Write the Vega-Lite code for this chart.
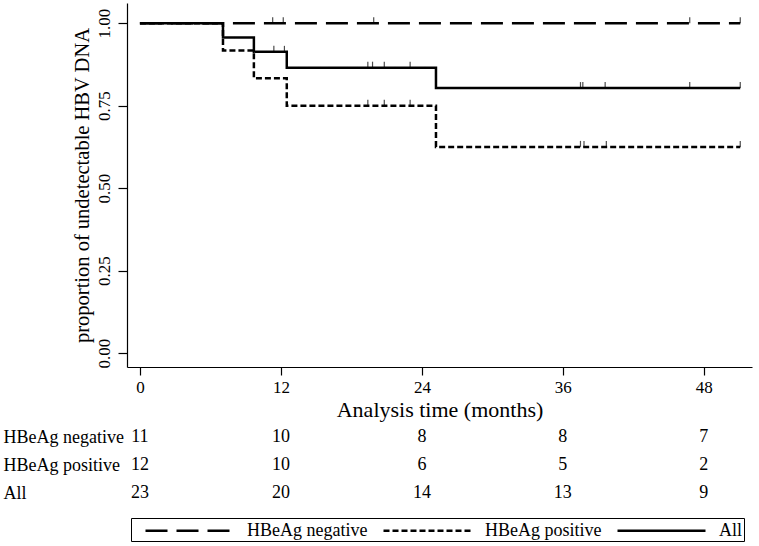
{
  "$schema": "https://vega.github.io/schema/vega-lite/v6.json",
  "padding": {"left": 3, "top": 3, "right": 7, "bottom": 3},
  "bounds": "flush",
  "spacing": 56,
  "config": {
    "font": "Liberation Serif",
    "view": {"stroke": null},
    "axis": {"grid": false, "domainColor": "black", "tickColor": "black", "labelColor": "black", "titleColor": "black", "titleFontWeight": "normal", "domainWidth": 1.2, "tickWidth": 1.2}
  },
  "datasets": {
    "curves": [
      {"group": "HBeAg negative", "t": 0, "s": 1},
      {"group": "HBeAg negative", "t": 51.1, "s": 1},
      {"group": "HBeAg positive", "t": 0, "s": 1},
      {"group": "HBeAg positive", "t": 7.07, "s": 0.9167},
      {"group": "HBeAg positive", "t": 9.7, "s": 0.8333},
      {"group": "HBeAg positive", "t": 12.5, "s": 0.75},
      {"group": "HBeAg positive", "t": 25.2, "s": 0.625},
      {"group": "HBeAg positive", "t": 51.1, "s": 0.625},
      {"group": "All", "t": 0, "s": 1},
      {"group": "All", "t": 7.07, "s": 0.9565},
      {"group": "All", "t": 9.7, "s": 0.913},
      {"group": "All", "t": 12.5, "s": 0.865},
      {"group": "All", "t": 25.2, "s": 0.8032},
      {"group": "All", "t": 51.1, "s": 0.8032}
    ],
    "censor": [
      {"group": "HBeAg negative", "t": 11.3, "s": 1},
      {"group": "HBeAg negative", "t": 12.2, "s": 1},
      {"group": "HBeAg negative", "t": 19.9, "s": 1},
      {"group": "HBeAg negative", "t": 46.8, "s": 1},
      {"group": "HBeAg negative", "t": 51.1, "s": 1},
      {"group": "HBeAg positive", "t": 19.4, "s": 0.75},
      {"group": "HBeAg positive", "t": 20.8, "s": 0.75},
      {"group": "HBeAg positive", "t": 23.0, "s": 0.75},
      {"group": "HBeAg positive", "t": 37.5, "s": 0.625},
      {"group": "HBeAg positive", "t": 37.8, "s": 0.625},
      {"group": "HBeAg positive", "t": 39.7, "s": 0.625},
      {"group": "HBeAg positive", "t": 51.1, "s": 0.625},
      {"group": "All", "t": 11.4, "s": 0.913},
      {"group": "All", "t": 12.3, "s": 0.913},
      {"group": "All", "t": 19.4, "s": 0.865},
      {"group": "All", "t": 19.8, "s": 0.865},
      {"group": "All", "t": 20.8, "s": 0.865},
      {"group": "All", "t": 23.0, "s": 0.865},
      {"group": "All", "t": 37.5, "s": 0.8032},
      {"group": "All", "t": 37.7, "s": 0.8032},
      {"group": "All", "t": 39.6, "s": 0.8032},
      {"group": "All", "t": 46.8, "s": 0.8032},
      {"group": "All", "t": 51.1, "s": 0.8032}
    ],
    "risk": [
      {"group": "HBeAg negative", "t": 0, "n": 11},
      {"group": "HBeAg negative", "t": 12, "n": 10},
      {"group": "HBeAg negative", "t": 24, "n": 8},
      {"group": "HBeAg negative", "t": 36, "n": 8},
      {"group": "HBeAg negative", "t": 48, "n": 7},
      {"group": "HBeAg positive", "t": 0, "n": 12},
      {"group": "HBeAg positive", "t": 12, "n": 10},
      {"group": "HBeAg positive", "t": 24, "n": 6},
      {"group": "HBeAg positive", "t": 36, "n": 5},
      {"group": "HBeAg positive", "t": 48, "n": 2},
      {"group": "All", "t": 0, "n": 23},
      {"group": "All", "t": 12, "n": 20},
      {"group": "All", "t": 24, "n": 14},
      {"group": "All", "t": 36, "n": 13},
      {"group": "All", "t": 48, "n": 9}
    ]
  },
  "vconcat": [
    {
      "width": 625,
      "height": 364,
      "layer": [
        {
          "data": {"name": "curves"},
          "mark": {"type": "line", "interpolate": "step-after", "strokeWidth": 2.5, "color": "black"},
          "encoding": {
            "x": {"field": "t", "type": "quantitative", "scale": {"domain": [-1.1, 52.1], "nice": false, "zero": false},
              "axis": {"values": [0, 12, 24, 36, 48], "labelFontSize": 17, "tickSize": 8, "labelPadding": 4, "title": "Analysis time (months)", "titleFontSize": 22, "titlePadding": 4, "labelFlush": false}},
            "y": {"field": "s", "type": "quantitative", "scale": {"domain": [-0.042, 1.061], "nice": false, "zero": false},
              "axis": {"values": [0, 0.25, 0.5, 0.75, 1], "format": ".2f", "labelAngle": -90, "labelFontSize": 17, "tickSize": 9, "labelPadding": 5, "title": "proportion of undetectable HBV DNA", "titleFontSize": 20.5, "titlePadding": 3}},
            "strokeDash": {"field": "group", "type": "nominal",
              "scale": {"domain": ["HBeAg negative", "HBeAg positive", "All"], "range": [[22, 9], [6, 3], [1, 0]]},
              "legend": {"orient": "none", "legendX": 4, "legendY": 515, "direction": "horizontal", "title": null, "strokeColor": "black", "padding": 1, "columnPadding": 2, "labelFontSize": 18, "labelOffset": 92, "symbolType": "M0.2,0H9", "symbolSize": 400, "symbolStrokeWidth": 2.5, "symbolStrokeColor": "black", "labelColor": "black", "labelLimit": 300}}
          }
        },
        {
          "data": {"name": "censor"},
          "mark": {"type": "tick", "orient": "vertical", "size": 6, "thickness": 1.2, "yOffset": -3, "color": "black"},
          "encoding": {
            "x": {"field": "t", "type": "quantitative"},
            "y": {"field": "s", "type": "quantitative"}
          }
        }
      ]
    },
    {
      "width": 625,
      "height": 84,
      "data": {"name": "risk"},
      "mark": {"type": "text", "fontSize": 18, "color": "black"},
      "encoding": {
        "x": {"field": "t", "type": "quantitative", "scale": {"domain": [-1.1, 52.1], "nice": false, "zero": false}, "axis": null},
        "y": {"field": "group", "type": "nominal", "sort": ["HBeAg negative", "HBeAg positive", "All"], "scale": {"paddingOuter": 0, "paddingInner": 0},
          "axis": {"domain": false, "ticks": false, "labelAlign": "left", "labelPadding": 124, "labelFontSize": 18, "labelColor": "black", "title": null}},
        "text": {"field": "n", "type": "quantitative"}
      }
    }
  ]
}
